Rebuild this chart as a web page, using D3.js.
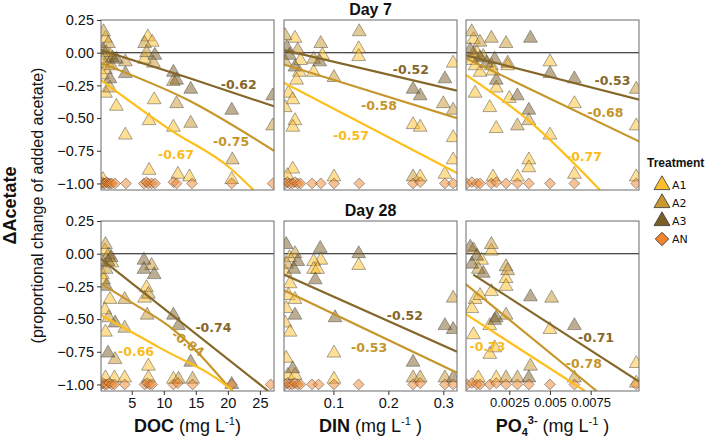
<!DOCTYPE html>
<html><head><meta charset="utf-8">
<script src="https://cdn.jsdelivr.net/npm/d3@7"></script>
<style>body{margin:0;background:#fff}</style>
</head><body><svg id="c" width="709" height="440"></svg>
<script>
// ---------------- DATA ----------------
const treatments = ["A1","A2","A3","AN"];
const days = ["Day 7","Day 28"];
const variables = ["DOC","DIN","PO4"];
const yTicks = [0.25, 0, -0.25, -0.5, -0.75, -1];
const yDomain = [-1.05, 0.25];
const xDomains = {DOC:[0.2, 27.2], DIN:[0.01, 0.325], PO4:[-0.00016, 0.01047]};
const xTicks = {DOC:[5,10,15,20,25], DIN:[0.1,0.2,0.3], PO4:[0.0025,0.005,0.0075]};
const xTickLabels = {DOC:["5","10","15","20","25"], DIN:["0.1","0.2","0.3"], PO4:["0.0025","0.005","0.0075"]};

// points: [treatment, x, deltaAcetate]
const d7_DOC = [
 ["A2",0.6,0.16],["A1",0.9,0.11],["A2",1.35,0.07],["A3",0.5,0.02],["A2",1.0,0.0],["A1",1.6,-0.02],["A3",2.0,-0.04],
 ["A2",0.4,-0.06],["A1",1.2,-0.08],["A3",2.6,-0.05],["A2",1.8,-0.1],["A1",0.9,-0.13],["A1",0.4,-0.17],["A3",1.6,-0.2],
 ["A2",1.6,-0.27],["A1",0.9,-0.31],["A1",2.6,-0.41],["A2",4.0,-0.07],["A3",4.0,-0.16],["A1",4.0,-0.63],["A1",0.5,-0.97],
 ["A1",7.5,0.12],["A2",7.0,0.07],["A1",8.2,0.08],["A2",7.3,0.0],["A3",8.6,-0.02],["A1",7.0,-0.05],["A2",8.4,-0.08],
 ["A1",8.5,-0.36],["A1",7.7,-0.52],["A1",7.7,-0.9],["A3",11.5,-0.15],["A3",12.0,-0.21],["A2",11.5,-0.22],["A2",12.0,-0.39],
 ["A1",11.5,-0.57],["A1",12.2,-0.93],["A3",14.2,-0.28],["A2",14.2,-0.54],["A1",14.0,-0.95],["A3",20.6,-0.44],["A2",20.7,-0.82],
 ["A1",20.6,-0.97],["A3",27.0,-0.33],["A2",27.0,-0.56],
 ["AN",0.25,-1],["AN",0.4,-0.99],["AN",0.6,-1],["AN",0.8,-1],["AN",1.1,-0.99],["AN",1.3,-1],["AN",1.6,-1],["AN",1.9,-1],
 ["AN",2.4,-1],["AN",4.1,-1],["AN",6.9,-1],["AN",7.3,-0.99],["AN",7.6,-1],["AN",8.1,-1],["AN",8.6,-1],["AN",11.5,-0.99],
 ["AN",12.0,-1],["AN",14.4,-1],["AN",20.6,-1],["AN",27.0,-1]
];
const d7_DIN = [
 ["A2",0.012,0.13],["A1",0.03,0.11],["A3",0.015,0.04],["A2",0.035,0.02],["A3",0.02,-0.02],["A1",0.04,-0.06],["A2",0.012,-0.07],
 ["A3",0.03,-0.11],["A1",0.038,-0.15],["A1",0.033,-0.21],["A1",0.018,-0.31],["A1",0.026,-0.36],["A1",0.012,-0.42],["A1",0.03,-0.52],
 ["A1",0.026,-0.57],["A1",0.026,-0.89],["A1",0.016,-0.94],["A2",0.064,-0.05],["A1",0.064,-0.15],["A2",0.077,0.07],["A1",0.08,-0.02],
 ["A3",0.075,-0.07],["A2",0.101,-0.19],["A1",0.101,-0.95],["A2",0.147,0.16],["A1",0.146,0.03],["A1",0.146,-0.03],["A3",0.245,-0.28],
 ["A3",0.258,-0.33],["A1",0.245,-0.55],["A1",0.258,-0.57],["A2",0.245,-0.95],["A1",0.258,-0.95],["A3",0.303,-0.2],["A2",0.3,-0.39],
 ["A1",0.318,-0.08],["A2",0.318,-0.44],["A1",0.318,-0.65],["A1",0.318,-0.82],["A1",0.303,-0.93],
 ["AN",0.012,-1],["AN",0.016,-0.99],["AN",0.02,-1],["AN",0.025,-1],["AN",0.03,-0.99],["AN",0.035,-1],["AN",0.04,-1],
 ["AN",0.061,-1],["AN",0.077,-1],["AN",0.101,-1],["AN",0.147,-1],["AN",0.245,-1],["AN",0.258,-0.99],["AN",0.303,-1],["AN",0.318,-1]
];
const d7_PO4 = [
 ["A2",0.00019,0.16],["A1",0.0003,0.10],["A2",0.0007,0.08],["A2",0.0014,0.11],["A2",0.0023,0.07],["A3",0.0038,0.11],
 ["A3",0.0001,0.02],["A2",0.0003,-0.01],["A1",0.0005,0.0],["A3",0.0007,-0.04],["A2",0.0009,-0.03],["A1",0.0002,-0.06],
 ["A3",0.0011,-0.08],["A1",0.0004,-0.1],["A3",0.0016,-0.05],["A2",0.0024,-0.08],["A1",0.0024,-0.1],["A1",0.0014,-0.1],
 ["A1",0.0007,-0.15],["A1",0.0015,-0.14],["A3",0.0017,-0.21],["A1",0.0017,-0.27],["A1",0.0004,-0.31],["A3",0.003,-0.33],
 ["A1",0.0025,-0.35],["A1",0.0013,-0.42],["A3",0.0037,-0.44],["A2",0.0037,-0.52],["A2",0.003,-0.56],["A1",0.0017,-0.58],
 ["A1",0.005,-0.07],["A3",0.005,-0.16],["A3",0.0065,-0.2],["A1",0.0065,-0.39],["A1",0.005,-0.63],["A1",0.0037,-0.82],
 ["A1",0.0037,-0.88],["A1",0.0065,-0.93],["A2",0.0103,-0.28],["A1",0.0103,-0.56],["A1",0.0103,-0.95],["A1",0.0015,-0.95],["A1",0.003,-0.95],
 ["AN",-0.0001,-1],["AN",0.0002,-0.99],["AN",0.0005,-1],["AN",0.0007,-1],["AN",0.0014,-1],["AN",0.0017,-0.99],["AN",0.0023,-1],
 ["AN",0.003,-1],["AN",0.0037,-1],["AN",0.005,-1],["AN",0.0065,-1],["AN",0.0103,-1]
];
const d28_DOC = [
 ["A2",0.9,0.07],["A1",0.8,0.02],["A2",1.4,-0.01],["A3",1.8,-0.03],["A2",0.5,-0.07],["A3",1.3,-0.06],["A1",1.9,-0.07],
 ["A2",1.0,-0.12],["A1",0.4,-0.16],["A1",0.6,-0.2],["A3",1.0,-0.25],["A1",1.6,-0.35],["A1",0.8,-0.43],["A2",1.4,-0.49],
 ["A3",2.4,-0.53],["A2",3.9,-0.57],["A1",0.9,-0.6],["A2",3.9,-0.35],["A3",1.3,-0.76],["A2",2.4,-0.81],["A1",0.9,-0.95],
 ["A1",2.3,-0.95],["A1",3.9,-0.95],["A3",6.9,-0.05],["A3",6.9,-0.12],["A2",8.1,-0.09],["A3",8.5,-0.16],["A1",7.3,-0.26],
 ["A2",7.6,-0.31],["A1",7.0,-0.34],["A2",7.4,-0.47],["A1",7.6,-0.86],["A1",7.6,-0.95],["A3",11.5,-0.47],["A3",12.3,-0.55],
 ["A3",14.2,-0.83],["A1",11.5,-0.96],["A2",12.3,-0.96],["A2",14.5,-0.96],["A3",20.6,-1.0],
 ["AN",0.25,-1],["AN",0.5,-0.99],["AN",0.8,-1],["AN",1.1,-1],["AN",1.5,-0.99],["AN",1.9,-1],["AN",2.3,-1],["AN",3.9,-1],
 ["AN",7.0,-1],["AN",7.4,-0.99],["AN",7.8,-1],["AN",8.2,-1],["AN",11.5,-1],["AN",12.2,-0.99],["AN",14.5,-1],["AN",20.6,-1],["AN",26.7,-1]
];
const d28_DIN = [
 ["A3",0.014,0.07],["A2",0.03,0.0],["A1",0.02,-0.03],["A3",0.035,-0.06],["A2",0.015,-0.08],["A3",0.028,-0.12],["A1",0.012,-0.14],
 ["A1",0.021,-0.23],["A1",0.018,-0.32],["A1",0.03,-0.35],["A3",0.03,-0.47],["A1",0.014,-0.42],["A1",0.012,-0.53],["A1",0.021,-0.6],
 ["A1",0.014,-0.8],["A3",0.026,-0.88],["A1",0.017,-0.93],["A1",0.03,-0.93],["A3",0.076,0.04],["A1",0.077,-0.05],["A1",0.064,-0.06],
 ["A1",0.064,-0.12],["A1",0.071,-0.12],["A3",0.067,-0.2],["A3",0.146,0.0],["A1",0.146,-0.09],["A3",0.103,-0.49],["A1",0.101,-0.76],
 ["A1",0.101,-0.96],["A3",0.245,-0.83],["A2",0.245,-0.95],["A2",0.258,-0.95],["A3",0.303,-0.55],["A2",0.318,-0.34],["A3",0.318,-0.58],
 ["A2",0.303,-0.95],["A3",0.318,-0.95],
 ["AN",0.012,-1],["AN",0.016,-0.99],["AN",0.02,-1],["AN",0.025,-1],["AN",0.03,-0.99],["AN",0.035,-1],["AN",0.04,-1],
 ["AN",0.061,-1],["AN",0.073,-1],["AN",0.101,-1],["AN",0.146,-1],["AN",0.245,-1],["AN",0.258,-0.99],["AN",0.303,-1],["AN",0.318,-1]
];
const d28_PO4 = [
 ["A2",0.0014,0.07],["A1",0.0014,0.02],["A3",0.0001,0.05],["A2",0.0003,0.03],["A3",0.0005,-0.02],["A1",0.0008,-0.05],
 ["A3",0.0002,-0.08],["A2",0.0006,-0.12],["A3",0.0009,-0.15],["A2",0.0023,-0.1],["A2",0.0024,-0.13],["A1",0.0023,-0.19],
 ["A1",0.0023,-0.25],["A1",0.0014,-0.29],["A1",0.0004,-0.35],["A1",0.0002,-0.42],["A1",0.0007,-0.32],["A3",0.0038,-0.33],
 ["A2",0.0051,-0.34],["A3",0.0017,-0.49],["A3",0.0016,-0.51],["A2",0.0023,-0.47],["A1",0.0013,-0.55],["A1",0.0003,-0.62],
 ["A1",0.005,-0.58],["A3",0.0065,-0.55],["A1",0.0016,-0.72],["A1",0.0013,-0.77],["A2",0.0038,-0.86],["A2",0.0065,-0.95],
 ["A1",0.0103,-0.84],["A1",0.0103,-0.99],["A1",0.0006,-0.95],["A1",0.0017,-0.95],["A2",0.0023,-0.95],["A2",0.003,-0.95],["A3",0.0037,-0.95],
 ["AN",-0.0001,-1],["AN",0.0002,-0.99],["AN",0.0005,-1],["AN",0.0007,-1],["AN",0.0013,-1],["AN",0.0017,-0.99],["AN",0.0023,-1],
 ["AN",0.003,-1],["AN",0.0037,-1],["AN",0.005,-1],["AN",0.0065,-1],["AN",0.0103,-1]
];

// fitted lines: [day, variable, treatment, points [x,y]]
const fits = [
 ["Day 7","DOC","A3",[[0.2,0.02],[13.7,-0.19],[27.2,-0.41]]],
 ["Day 7","DOC","A2",[[0.2,-0.08],[13.7,-0.36],[27.2,-0.75]]],
 ["Day 7","DOC","A1",[[0.2,-0.21],[11,-0.59],[20.3,-0.88],[24,-1.05]]],
 ["Day 7","DIN","A3",[[0.01,0.02],[0.325,-0.29]]],
 ["Day 7","DIN","A2",[[0.01,-0.09],[0.325,-0.5]]],
 ["Day 7","DIN","A1",[[0.01,-0.23],[0.325,-0.92]]],
 ["Day 7","PO4","A3",[[-0.0002,-0.02],[0.0105,-0.36]]],
 ["Day 7","PO4","A2",[[-0.0002,-0.04],[0.0105,-0.68]]],
 ["Day 7","PO4","A1",[[-0.00016,-0.17],[0.0037,-0.52],[0.00807,-1.05]]],
 ["Day 28","DOC","A3",[[0.2,-0.04],[26.3,-1.05]]],
 ["Day 28","DOC","A2",[[0.2,-0.23],[5.2,-0.38],[11.5,-0.58],[20.3,-1.03]]],
 ["Day 28","DOC","A1",[[0.2,-0.47],[9.4,-0.72],[20.3,-1.03],[21,-1.06]]],
 ["Day 28","DIN","A3",[[0.01,-0.16],[0.325,-0.75]]],
 ["Day 28","DIN","A2",[[0.01,-0.28],[0.325,-0.91]]],
 ["Day 28","PO4","A3",[[0.00029,-0.16],[0.0105,-0.98]]],
 ["Day 28","PO4","A2",[[-0.0002,-0.23],[0.00787,-1.05]]],
 ["Day 28","PO4","A1",[[-0.0002,-0.46],[0.00715,-1.05]]]
];

// correlation labels: [day, variable, treatment, text, x, y, angle]
const rhoLabels = [
 ["Day 7","DOC","A3","-0.62",21.7,-0.247,0],
 ["Day 7","DOC","A2","-0.75",20.5,-0.68,0],
 ["Day 7","DOC","A1","-0.67",11.9,-0.78,0],
 ["Day 7","DIN","A3","-0.52",0.241,-0.132,0],
 ["Day 7","DIN","A2","-0.58",0.183,-0.40,0],
 ["Day 7","DIN","A1","-0.57",0.132,-0.63,0],
 ["Day 7","PO4","A3","-0.53",0.00884,-0.21,0],
 ["Day 7","PO4","A2","-0.68",0.00841,-0.46,0],
 ["Day 7","PO4","A1","-0.77",0.00709,-0.79,0],
 ["Day 28","DOC","A3","-0.74",17.75,-0.563,0],
 ["Day 28","DOC","A2","-0.84",13.8,-0.685,35],
 ["Day 28","DOC","A1","-0.66",5.67,-0.75,0],
 ["Day 28","DIN","A3","-0.52",0.230,-0.469,0],
 ["Day 28","DIN","A2","-0.53",0.165,-0.716,0],
 ["Day 28","PO4","A3","-0.71",0.00783,-0.639,0],
 ["Day 28","PO4","A2","-0.78",0.00708,-0.838,0],
 ["Day 28","PO4","A1","-0.73",0.00116,-0.706,0]
];
const pointSets = {"Day 7":{DOC:d7_DOC,DIN:d7_DIN,PO4:d7_PO4},"Day 28":{DOC:d28_DOC,DIN:d28_DIN,PO4:d28_PO4}};

// ---------------- STYLE / LAYOUT ----------------
const fillCol = {A1:"#FDC02A",A2:"#C9982E",A3:"#7B5E26",AN:"#F2852C"};
const lineCol = {A1:"#FDBF1C",A2:"#C6962B",A3:"#86672A"};
const labelCol = {A1:"#F9BC1A",A2:"#C4952B",A3:"#86672A"};
const panelLeft = [101, 284, 466], panelW = 173;
const rowTop = [20, 221], panelH = 170;
const FONT = "'Liberation Sans', Arial, Helvetica, sans-serif";

const svg = d3.select("#c");
const defs = svg.append("defs");

const tri = d3.symbol().type(d3.symbolTriangle).size(82)();
const dia = d3.symbol().type(d3.symbolSquare).size(58)();

days.forEach((day, r) => {
  const y = d3.scaleLinear().domain(yDomain).range([rowTop[r] + panelH, rowTop[r]]);
  variables.forEach((v, c) => {
    const x = d3.scaleLinear().domain(xDomains[v]).range([panelLeft[c], panelLeft[c] + panelW]);
    const id = "clip" + r + c;
    defs.append("clipPath").attr("id", id).append("rect")
      .attr("x", panelLeft[c]).attr("y", rowTop[r]).attr("width", panelW).attr("height", panelH);
    const g = svg.append("g");
    const gc = g.append("g").attr("clip-path", `url(#${id})`);
    // zero line
    gc.append("line").attr("x1", panelLeft[c]).attr("x2", panelLeft[c] + panelW)
      .attr("y1", y(0)).attr("y2", y(0)).attr("stroke", "#111").attr("stroke-width", 1.1);
    // points
    const pts = pointSets[day][v];
    treatments.forEach(t => {
      gc.selectAll(null).data(pts.filter(d => d[0] === t)).enter().append("path")
        .attr("d", t === "AN" ? dia : tri)
        .attr("transform", d => `translate(${x(d[1])},${y(d[2])})` + (t === "AN" ? " rotate(45)" : ""))
        .attr("fill", fillCol[t]).attr("fill-opacity", 0.5)
        .attr("stroke", "#3a3a3a").attr("stroke-opacity", 0.55).attr("stroke-width", 0.8);
    });
    // fit lines
    const line = d3.line().x(d => x(d[0])).y(d => y(d[1])).curve(d3.curveMonotoneX);
    fits.filter(f => f[0] === day && f[1] === v).forEach(f => {
      gc.append("path").attr("d", line(f[3])).attr("fill", "none")
        .attr("stroke", lineCol[f[2]]).attr("stroke-width", 2.2);
    });
    // labels
    rhoLabels.filter(l => l[0] === day && l[1] === v).forEach(l => {
      g.append("text").attr("x", x(l[4])).attr("y", y(l[5]))
        .attr("transform", l[6] ? `rotate(${l[6]},${x(l[4])},${y(l[5])})` : null)
        .attr("text-anchor", "middle").attr("dominant-baseline", "central")
        .attr("font-family", "'DejaVu Sans', Verdana, sans-serif").attr("font-weight", "bold")
        .attr("font-size", 12.5).attr("fill", labelCol[l[2]]).text(l[3]);
    });
    // border
    g.append("rect").attr("x", panelLeft[c]).attr("y", rowTop[r]).attr("width", panelW).attr("height", panelH)
      .attr("fill", "none").attr("stroke", "#6b6b6b").attr("stroke-width", 1);
    // y axis
    if (c === 0) {
      const ay = svg.append("g").attr("transform", `translate(${panelLeft[c]},0)`)
        .call(d3.axisLeft(y).tickValues(yTicks).tickFormat(d3.format(".2f")).tickSize(4).tickPadding(3));
      ay.select(".domain").remove();
      ay.selectAll("line").attr("stroke", "#333");
      ay.selectAll("text").attr("font-family", FONT).attr("font-size", 14.5).attr("fill", "#111");
    }
    // x axis
    if (r === 1) {
      const ax = svg.append("g").attr("transform", `translate(0,${rowTop[r] + panelH})`)
        .call(d3.axisBottom(x).tickValues(xTicks[v]).tickFormat((d, i) => xTickLabels[v][i]).tickSize(4).tickPadding(3));
      ax.select(".domain").remove();
      ax.selectAll("line").attr("stroke", "#333");
      ax.selectAll("text").attr("font-family", FONT).attr("font-size", v === "PO4" ? 13 : 14.5).attr("fill", "#111");
    }
  });
  // facet title
  svg.append("text").attr("x", panelLeft[1] + panelW / 2).attr("y", rowTop[r] - 5)
    .attr("text-anchor", "middle").attr("font-family", FONT).attr("font-weight", "bold")
    .attr("font-size", 16).attr("fill", "#111").text(day);
});

// x-axis titles
function xTitle(c, parts) {
  const t = svg.append("text").attr("x", panelLeft[c] + panelW / 2).attr("y", 432)
    .attr("text-anchor", "middle").attr("font-family", FONT).attr("font-size", 18).attr("fill", "#111");
  parts.forEach(p => {
    const s = t.append("tspan").text(p.s);
    if (p.b) s.attr("font-weight", "bold");
    if (p.fs) s.attr("font-size", p.fs);
    if (p.dy) s.attr("dy", p.dy);
  });
}
xTitle(0, [{s:"DOC", b:1}, {s:" (mg L"}, {s:"-1", fs:11, dy:-7}, {s:")", dy:7}]);
xTitle(1, [{s:"DIN", b:1}, {s:" (mg L"}, {s:"-1", fs:11, dy:-7}, {s:" )", dy:7}]);
xTitle(2, [{s:"PO", b:1}, {s:"4", b:1, fs:11, dy:4}, {s:"3-", b:1, fs:11, dy:-12}, {s:" (mg L", dy:8}, {s:"-1", fs:11, dy:-7}, {s:" )", dy:7}]);

// y-axis titles
const yMid = (rowTop[0] + rowTop[1] + panelH) / 2;
svg.append("text").attr("transform", `translate(16,${yMid}) rotate(-90)`).attr("text-anchor", "middle")
  .attr("font-family", FONT).attr("font-weight", "bold").attr("font-size", 18).attr("fill", "#111").text("ΔAcetate");
svg.append("text").attr("transform", `translate(43,${yMid}) rotate(-90)`).attr("text-anchor", "middle")
  .attr("font-family", FONT).attr("font-size", 16).attr("fill", "#111").text("(proportional change of added acetate)");

// legend
const lg = svg.append("g");
lg.append("text").attr("x", 647).attr("y", 167).attr("font-family", FONT).attr("font-weight", "bold")
  .attr("font-size", 12).attr("fill", "#111").text("Treatment");
const triL = d3.symbol().type(d3.symbolTriangle).size(110)();
const diaL = d3.symbol().type(d3.symbolSquare).size(90)();
treatments.forEach((t, i) => {
  const cy = 185 + i * 18;
  lg.append("path").attr("d", t === "AN" ? diaL : triL)
    .attr("transform", `translate(662,${cy})` + (t === "AN" ? " rotate(45)" : ""))
    .attr("fill", fillCol[t]).attr("stroke", "#333").attr("stroke-width", 0.8);
  lg.append("text").attr("x", 672).attr("y", cy).attr("dominant-baseline", "central")
    .attr("font-family", "'DejaVu Sans', Verdana, sans-serif").attr("font-size", 11).attr("fill", "#111").text(t);
});
</script></body></html>
